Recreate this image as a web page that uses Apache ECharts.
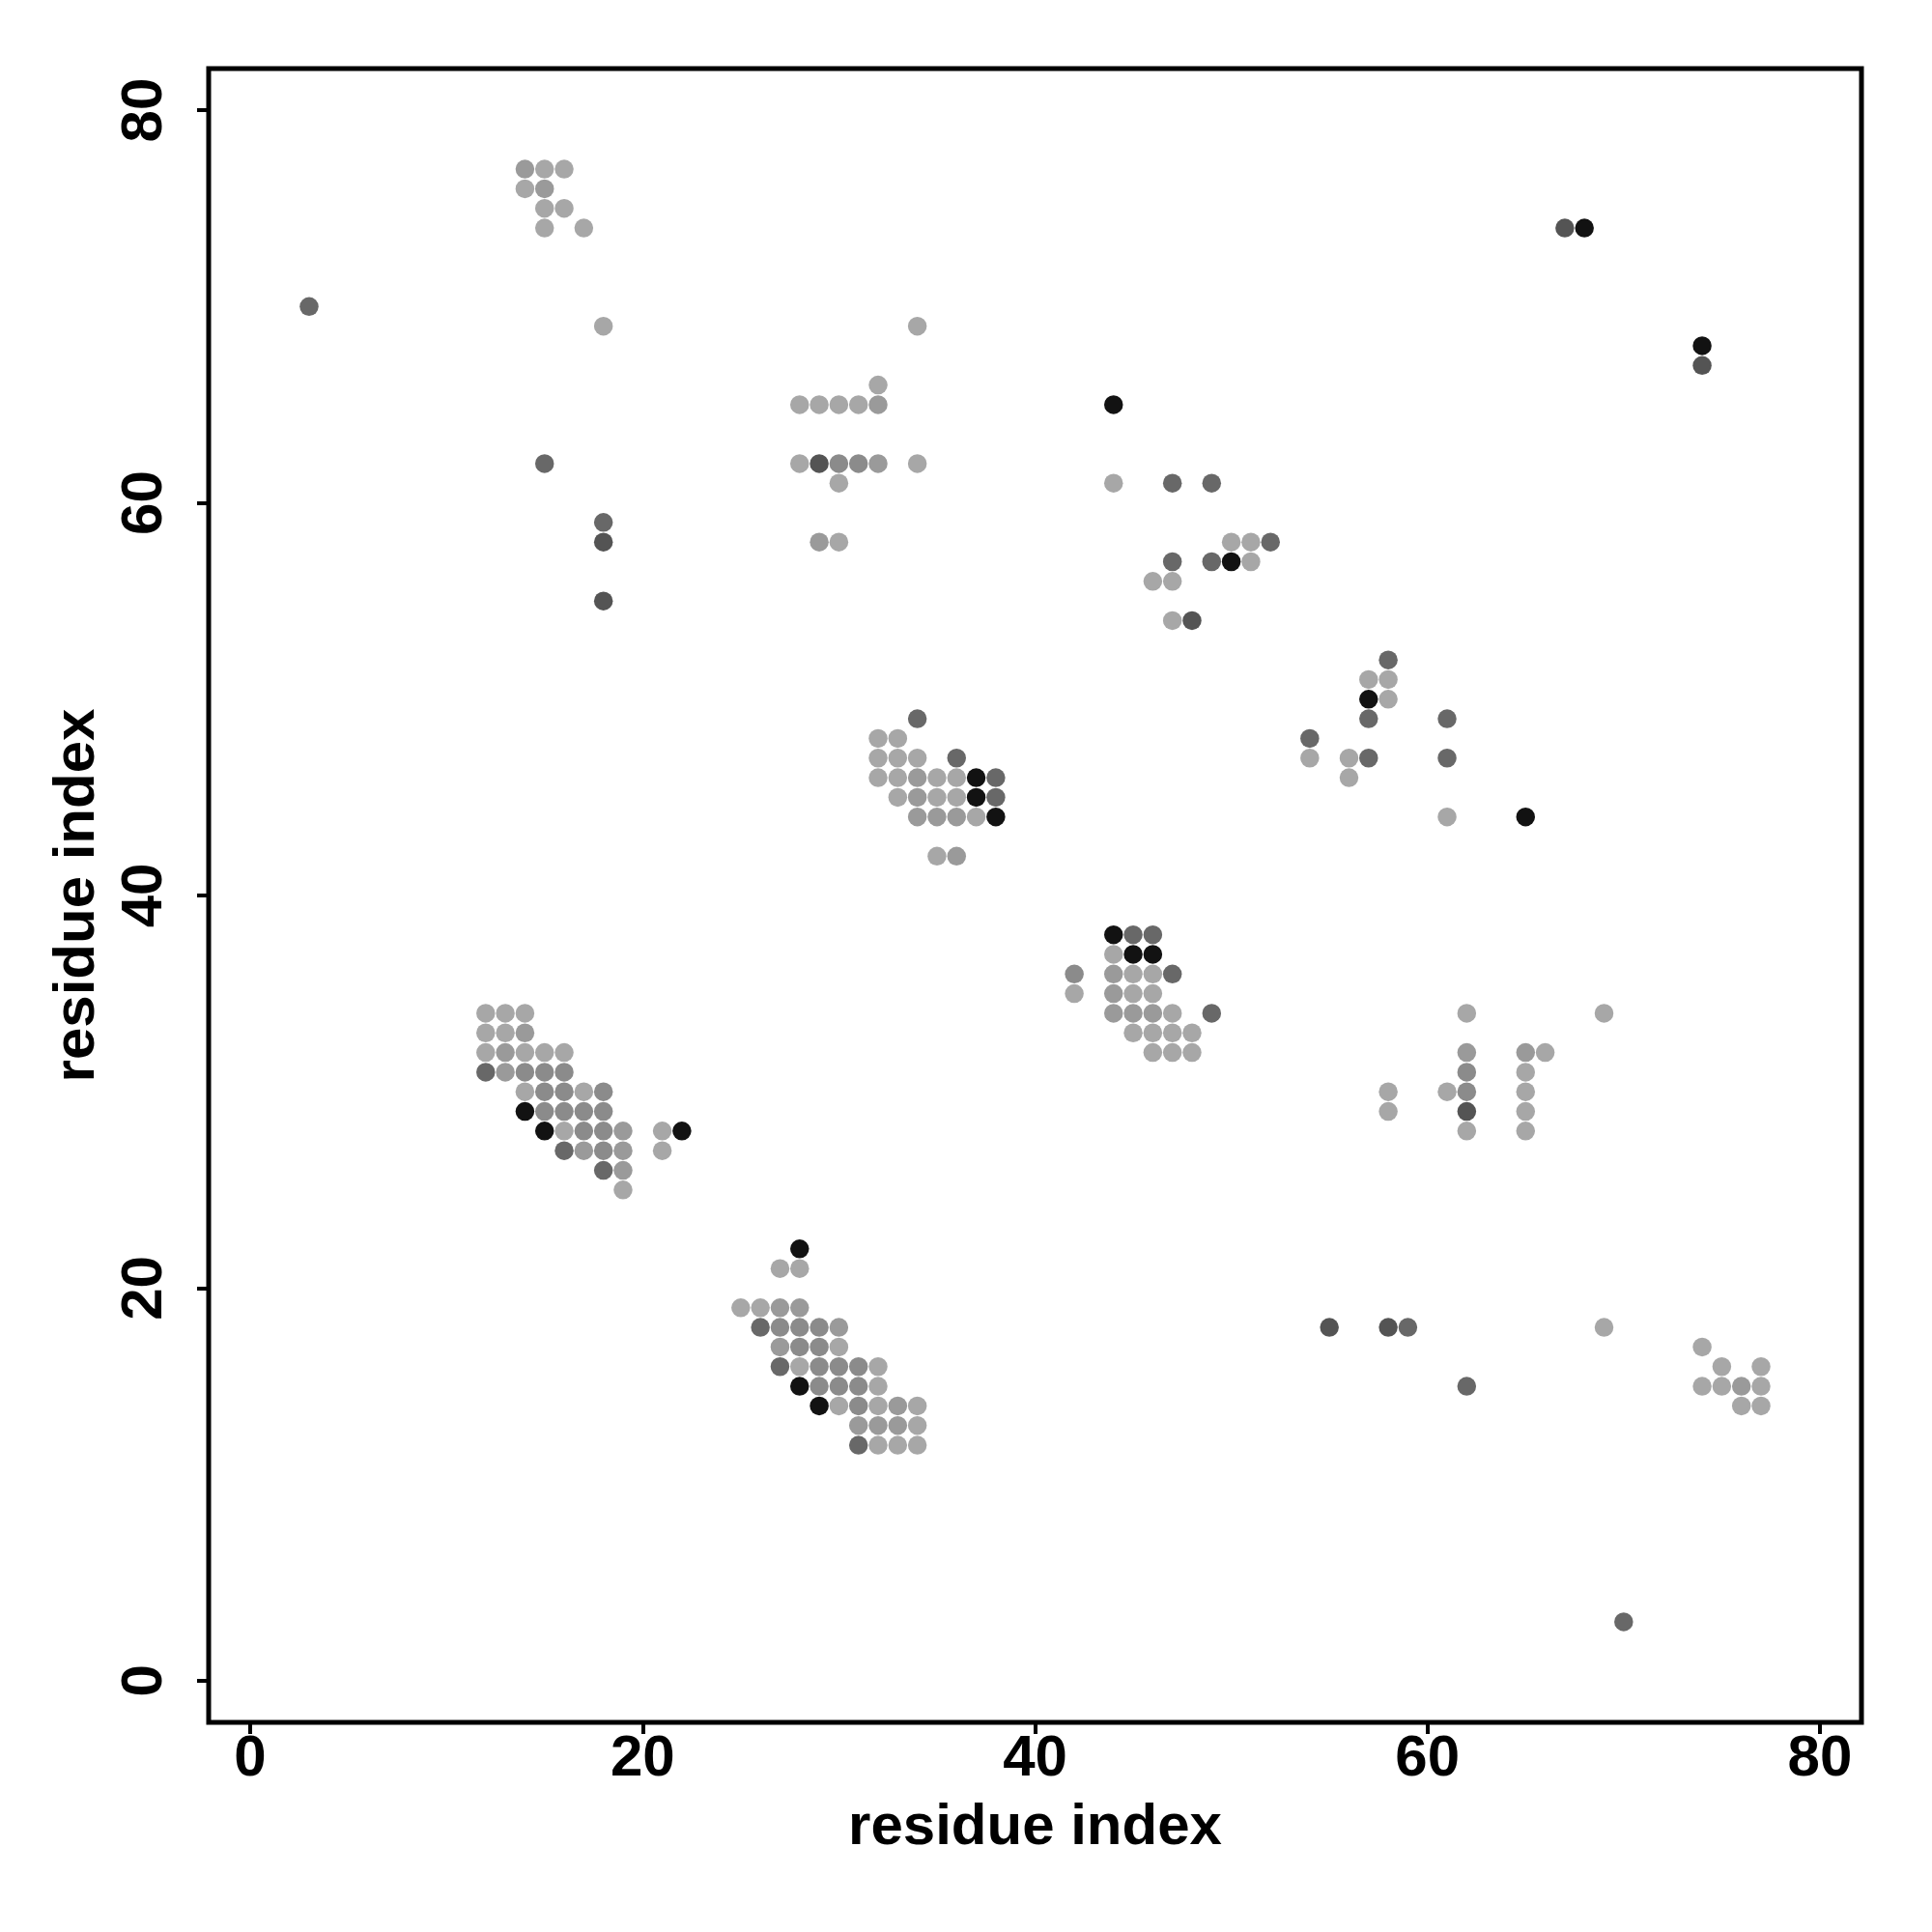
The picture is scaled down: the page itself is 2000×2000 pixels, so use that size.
<!DOCTYPE html>
<html>
<head>
<meta charset="utf-8">
<script src="https://cdn.jsdelivr.net/npm/echarts@6/dist/echarts.min.js"></script>
<style>html,body{margin:0;padding:0;background:#fff}#c{width:2000px;height:2000px}</style>
</head>
<body>
<div id="c"></div>
<script>
// axis ticks
const tickValues = [0, 20, 40, 60, 80];
const axisTitle = 'residue index';

// contact points grouped by grey shade (x = residue, y = residue)
const shadeA = [ // lightest
  [15,77],[16,77],[14,76],[15,75],[16,75],[15,74],[17,74],[18,69],
  [34,69],[32,66],[28,65],[29,65],[30,65],[31,65],[28,62],[34,62],[30,61],[30,58],
  [32,48],[33,48],[32,47],[33,47],[34,47],[32,46],[33,46],[35,46],[36,46],[33,45],[35,45],[36,45],[37,44],[35,42],
  [44,61],[50,58],[51,58],[51,57],[46,56],[47,56],[47,54],
  [57,51],[58,51],[58,50],[54,47],[56,47],[56,46],[61,44],
  [12,34],[13,34],[14,34],[12,33],[13,33],[12,32],[14,32],[15,32],[16,32],[14,30],[17,30],[16,28],[21,28],[21,27],[19,25],
  [27,21],[28,21],[25,19],[26,19],[30,17],[28,16],[32,16],[32,15],[30,14],[32,14],[34,14],[34,13],[32,12],[33,12],[34,12],
  [42,35],[44,37],[45,36],[46,36],[45,35],[46,35],[47,34],[45,33],[46,33],[47,33],[48,33],[46,32],[47,32],[48,32],
  [62,34],[69,34],[66,32],[65,31],[58,30],[61,30],[65,30],[58,29],[65,29],[62,28],[65,28],
  [69,18],[74,17],[75,16],[77,16],[74,15],[75,15],[77,15],[76,14],[77,14]
];
const shadeB = [
  [14,77],[15,76],[32,65],[32,62],[29,58],[34,46],[34,45],[34,44],[35,44],[36,44],[36,42],
  [14,33],[13,32],[13,31],[19,28],[17,27],[19,27],[19,26],
  [27,19],[28,19],[30,18],[27,17],[33,14],[31,13],[32,13],[33,13],
  [44,36],[44,35],[44,34],[45,34],[46,34],
  [62,32],[65,32],[76,15]
];
const shadeC = [
  [30,62],[31,62],
  [14,31],[15,31],[16,31],[15,30],[16,30],[18,30],[15,29],[16,29],[17,29],[18,29],[17,28],[18,28],[18,27],
  [27,18],[28,18],[29,18],[28,17],[29,17],[29,16],[30,16],[31,16],[29,15],[30,15],[31,15],[31,14],
  [42,36],[62,31],[62,30]
];
const shadeD = [
  [3,70],[15,62],[18,59],[34,49],[36,47],[38,46],[38,45],[47,61],[49,61],[52,58],[47,57],[49,57],
  [58,52],[57,49],[61,49],[54,48],[57,47],[61,47],[12,31],[16,27],[18,26],[26,18],[27,16],[31,12],
  [45,38],[46,38],[47,36],[49,34],[59,18],[62,15],[70,3]
];
const shadeE = [
  [18,58],[18,55],[29,62],[48,54],[55,18],[58,18],[67,74],[74,67],[62,29]
];
const shadeF = [ // darkest
  [44,65],[50,57],[57,50],[65,44],[37,46],[37,45],[38,44],[14,29],[15,28],[22,28],
  [28,22],[28,15],[29,14],[44,38],[45,37],[46,37],[68,74],[74,68]
];

const groups = [
  {data: shadeA, color: '#a7a7a7'},
  {data: shadeB, color: '#9a9a9a'},
  {data: shadeC, color: '#8b8b8b'},
  {data: shadeD, color: '#686868'},
  {data: shadeE, color: '#545454'},
  {data: shadeF, color: '#121212'}
];

const font = 'Liberation Sans, Arial, Helvetica, sans-serif';
const labelStyle = {color: '#000', fontFamily: font, fontWeight: 'bold', fontSize: 60};

function axis(isY) {
  return {
    type: 'value',
    min: -2.12, max: 82.12,
    name: axisTitle,
    nameLocation: 'middle',
    nameGap: isY ? 106 : 79,
    nameTextStyle: Object.assign({}, labelStyle),
    axisLine: {show: false, onZero: false},
    splitLine: {show: false},
    axisTick: {show: true, customValues: tickValues, length: 12, lineStyle: {color: '#000', width: 4}},
    axisLabel: Object.assign({show: true, customValues: tickValues, margin: isY ? 36 : 8, rotate: isY ? 90 : 0}, labelStyle)
  };
}

const chart = echarts.init(document.getElementById('c'), null, {renderer: 'canvas'});
chart.setOption({
  animation: false,
  backgroundColor: '#fff',
  grid: {left: 216, right: 73, top: 71, bottom: 217, show: true, borderColor: '#000', borderWidth: 5, backgroundColor: 'transparent'},
  xAxis: axis(false),
  yAxis: axis(true),
  series: groups.map(g => ({
    type: 'scatter',
    data: g.data,
    symbol: 'circle',
    symbolSize: 19.5,
    itemStyle: {color: g.color, opacity: 1},
    silent: true
  }))
});
</script>
</body>
</html>
